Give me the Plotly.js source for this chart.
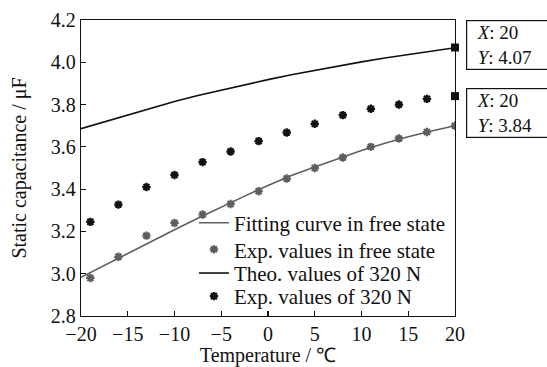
<!DOCTYPE html>
<html><head><meta charset="utf-8">
<script src="https://cdn.plot.ly/plotly-3.0.1.min.js"></script>
<style>html,body{margin:0;padding:0;background:#fff}#c{width:547px;height:367px}</style>
</head><body><div id="c"></div>
<script>
// Experimental points (temperature, °C)
const expX = [-19, -16, -13, -10, -7, -4, -1, 2, 5, 8, 11, 14, 17, 20];
const expFree = [2.98, 3.08, 3.18, 3.24, 3.28, 3.33, 3.39, 3.45, 3.50, 3.55, 3.60, 3.64, 3.67, 3.70];
const exp320X = [-19, -16, -13, -10, -7, -4, -1, 2, 5, 8, 11, 14, 17];
const exp320 = [3.245, 3.327, 3.41, 3.467, 3.528, 3.578, 3.627, 3.668, 3.709, 3.75, 3.78, 3.80, 3.827];
// Curves
const curveX = [-20, -17.5, -15, -12.5, -10, -7.5, -5, -2.5, 0, 2.5, 5, 7.5, 10, 12.5, 15, 17.5, 20];
const fitFree = [2.983, 3.04, 3.097, 3.153, 3.208, 3.262, 3.315, 3.367, 3.417, 3.464, 3.505, 3.545, 3.583, 3.617, 3.648, 3.675, 3.70];
const theo320 = [3.686, 3.719, 3.752, 3.784, 3.815, 3.843, 3.869, 3.894, 3.918, 3.941, 3.962, 3.983, 4.002, 4.02, 4.037, 4.053, 4.069];
// Data tips
const tipX = [20, 20];
const tipY = [4.07, 3.84];
// Legend names
const names = ['Fitting curve in free state', 'Exp. values in free state', 'Theo. values of 320 N', 'Exp. values of 320 N'];

const gray = '#5e5e5e';
const serif = 'Liberation Serif';

const traces = [
  {x: curveX, y: fitFree, mode: 'lines', name: names[0], legend: 'legend',
   line: {color: gray, width: 1.6}},
  {x: expX, y: expFree, mode: 'markers', name: names[1], legend: 'legend2',
   marker: {symbol: 'asterisk-open', size: 7, color: gray, line: {color: gray, width: 2.2}}},
  {x: curveX, y: theo320, mode: 'lines', name: names[2], legend: 'legend3',
   line: {color: '#111', width: 1.6}},
  {x: exp320X, y: exp320, mode: 'markers', name: names[3], legend: 'legend4',
   marker: {symbol: 'asterisk-open', size: 7, color: '#111', line: {color: '#111', width: 2.3}}},
  {x: tipX, y: tipY, mode: 'markers', showlegend: false, cliponaxis: false,
   marker: {symbol: 'square', size: 8, color: '#111'}}
];

const annotations = tipX.map((tx, i) => ({
  xref: 'paper', yref: 'paper', x: 1.029, y: i === 0 ? 1.0 : 0.771,
  xanchor: 'left', yanchor: 'top', align: 'left', width: 120, height: 46,
  showarrow: false, bordercolor: '#111', borderwidth: 1.2, borderpad: 1,
  text: '&nbsp;&nbsp;<i>X</i>: ' + tx + '<br>&nbsp;&nbsp;<i>Y</i>: ' + tipY[i].toFixed(2),
  font: {family: serif, size: 19, color: '#111'}
}));

const axisCommon = {
  showline: true, linecolor: '#111', linewidth: 1.3, mirror: true,
  ticks: 'inside', ticklen: 5, tickcolor: '#111', tickwidth: 1.2,
  showgrid: false, zeroline: false,
  tickfont: {family: serif, size: 20, color: '#111'}
};

function leg(yc) {
  return {x: 0.302, y: yc, xanchor: 'left', yanchor: 'middle',
    bgcolor: 'rgba(0,0,0,0)', borderwidth: 0,
    font: {family: serif, size: 21, color: '#111'}};
}

const layout = {
  width: 547, height: 367,
  margin: {l: 81, r: 92, t: 20, b: 51},
  paper_bgcolor: '#fff', plot_bgcolor: '#fff',
  font: {family: serif, color: '#111'},
  showlegend: true,
  legend: leg(0.314), legend2: leg(0.224), legend3: leg(0.144), legend4: leg(0.066),
  xaxis: Object.assign({}, axisCommon, {range: [-20, 20], dtick: 5, tick0: -20,
    title: {text: 'Temperature / ℃', font: {family: serif, size: 20}, standoff: 11}}),
  yaxis: Object.assign({}, axisCommon, {range: [2.8, 4.2], dtick: 0.2, tick0: 2.8, tickformat: '.1f',
    title: {text: 'Static capacitance / μF', font: {family: serif, size: 20}, standoff: 18}}),
  annotations: annotations
};

Plotly.newPlot('c', traces, layout, {staticPlot: true, displayModeBar: false});
</script></body></html>
